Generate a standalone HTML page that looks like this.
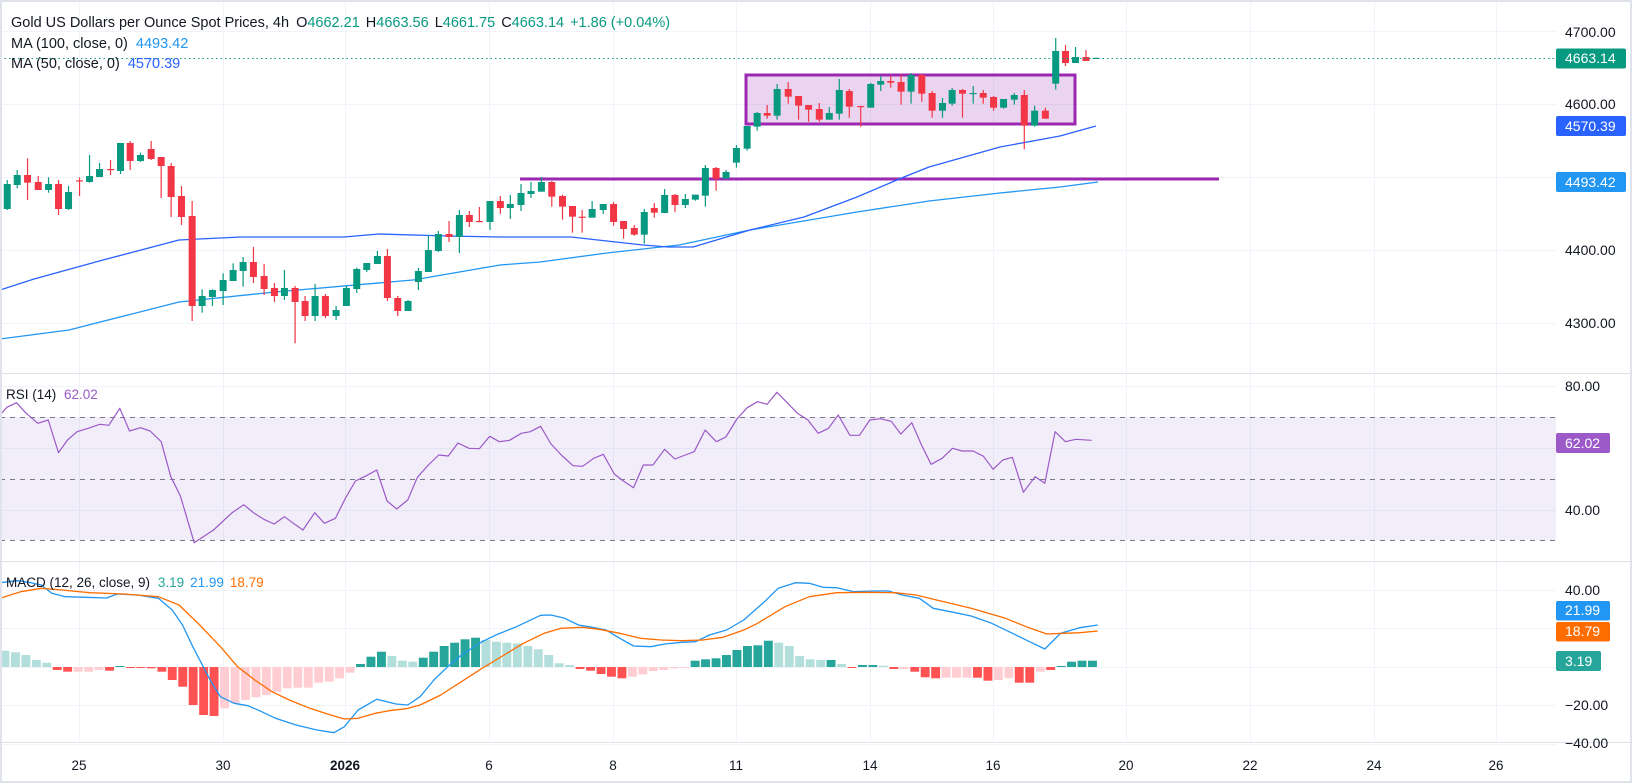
<!DOCTYPE html>
<html><head><meta charset="utf-8">
<style>
html,body{margin:0;padding:0;background:#fff;}
svg{display:block;font-family:"Liberation Sans",Arial,sans-serif;}
</style></head>
<body>
<svg id="c" width="1632" height="783" viewBox="0 0 1632 783" xmlns="http://www.w3.org/2000/svg">
<rect x="0" y="0" width="1632" height="783" fill="#fff"/>
<g id="grid"></g>
<rect x="0" y="417" width="1556" height="123" fill="#7e57c2" fill-opacity="0.1"/>
<line x1="0" y1="417.5" x2="1556" y2="417.5" stroke="#787b86" stroke-dasharray="5,5"/>
<line x1="0" y1="479.5" x2="1556" y2="479.5" stroke="#787b86" stroke-dasharray="5,5"/>
<line x1="0" y1="540.5" x2="1556" y2="540.5" stroke="#787b86" stroke-dasharray="5,5"/>
<rect x="746" y="75" width="329" height="49" fill="#9c27b0" fill-opacity="0.2" stroke="#9c27b0" stroke-width="3"/>
<line x1="520" y1="179" x2="1219" y2="179" stroke="#9c27b0" stroke-width="3"/>
<g id="ma"></g>
<g id="candles"></g>
<line x1="0" y1="58.5" x2="1556" y2="58.5" stroke="#089981" stroke-dasharray="1.5,3"/>
<g id="ind"></g>
<line x1="0" y1="373.5" x2="1632" y2="373.5" stroke="#e0e3eb"/>
<line x1="0" y1="561.5" x2="1632" y2="561.5" stroke="#e0e3eb"/>
<line x1="0" y1="742.5" x2="1632" y2="742.5" stroke="#e0e3eb"/>
<rect x="1" y="1" width="1630" height="781" fill="none" stroke="#e0e3eb" stroke-width="2"/>
<g font-size="14.5" fill="#131722">
<text x="11" y="27">Gold US Dollars per Ounce Spot Prices, 4h <tspan dx="3">O</tspan><tspan fill="#089981">4662.21</tspan><tspan dx="6">H</tspan><tspan fill="#089981">4663.56</tspan><tspan dx="6">L</tspan><tspan fill="#089981">4661.75</tspan><tspan dx="6">C</tspan><tspan fill="#089981">4663.14</tspan><tspan dx="6" fill="#089981">+1.86 (+0.04%)</tspan></text>
<text x="11" y="48">MA (100, close, 0) <tspan dx="4" fill="#2196f3">4493.42</tspan></text>
<text x="11" y="68">MA (50, close, 0) <tspan dx="4" fill="#2962ff">4570.39</tspan></text>
</g>
<g font-size="13.5" fill="#131722">
<text x="6" y="399">RSI (14) <tspan dx="4" fill="#9c59c8">62.02</tspan></text>
<text x="6" y="587">MACD (12, 26, close, 9) <tspan dx="4" fill="#26a69a">3.19</tspan><tspan dx="6" fill="#2196f3">21.99</tspan><tspan dx="6" fill="#ff6d00">18.79</tspan></text>
</g>
<g font-size="14" fill="#131722">
<text x="1565" y="37">4700.00</text>
<text x="1565" y="109">4600.00</text>
<text x="1565" y="255">4400.00</text>
<text x="1565" y="328">4300.00</text>
<text x="1565" y="391">80.00</text>
<text x="1565" y="515">40.00</text>
<text x="1565" y="595">40.00</text>
<text x="1565" y="710">−20.00</text>
<text x="1565" y="748">−40.00</text>
</g>
<g font-size="14" fill="#fff">
<rect x="1556" y="48.5" width="70" height="20" rx="2" fill="#089981"/><text x="1565" y="63">4663.14</text>
<rect x="1556" y="116" width="70" height="20" rx="2" fill="#2962ff"/><text x="1565" y="131">4570.39</text>
<rect x="1556" y="172" width="70" height="20" rx="2" fill="#2196f3"/><text x="1565" y="187">4493.42</text>
<rect x="1556" y="433" width="54" height="20" rx="2" fill="#9c59c8"/><text x="1565" y="448">62.02</text>
<rect x="1556" y="601" width="54" height="19.5" rx="2" fill="#2196f3"/><text x="1565" y="615">21.99</text>
<rect x="1556" y="622" width="54" height="19.5" rx="2" fill="#ff6d00"/><text x="1565" y="636">18.79</text>
<rect x="1556" y="651" width="45" height="20" rx="2" fill="#26a69a"/><text x="1565" y="666">3.19</text>
</g>
<g font-size="13.5" fill="#131722" text-anchor="middle">
<text x="79" y="770">25</text><text x="223" y="770">30</text><text x="345" y="770" font-weight="bold">2026</text>
<text x="489" y="770">6</text><text x="613" y="770">8</text><text x="736" y="770">11</text>
<text x="870" y="770">14</text><text x="993" y="770">16</text><text x="1126" y="770">20</text>
<text x="1250" y="770">22</text><text x="1374" y="770">24</text><text x="1496" y="770">26</text>
</g>
</svg>
<script>
var NS="http://www.w3.org/2000/svg";
function el(p,t,a){var e=document.createElementNS(NS,t);for(var k in a)e.setAttribute(k,a[k]);p.appendChild(e);return e;}
var grid=document.getElementById('grid');
[79,223,345,489,613,736,870,993,1126,1250,1374,1496].forEach(function(x){el(grid,'line',{x1:x+.5,y1:0,x2:x+.5,y2:742,stroke:'#f0f3fa'});});
[31.5,104.5,177.5,250.5,323.5,386.5,448.5,510.5,590.5,628.5,667.5,705.5,744.5].forEach(function(y){el(grid,'line',{x1:0,y1:y,x2:1556,y2:y,stroke:'#f0f3fa'});});
var cg=document.getElementById('candles');
function candle(x,o,c,h,l){var up=c<o;var col=up?'#089981':'#f23645';
 el(cg,'line',{x1:x,y1:h,x2:x,y2:l,stroke:col,'stroke-width':1.2});
 var t=Math.min(o,c),b=Math.max(o,c);if(b-t<1.2){b=t+1.2;}
 el(cg,'rect',{x:x-3.5,y:t,width:7,height:b-t,fill:col});}
var z1=[[21,327,252,240,330],[50,255,225,210,265],[80,225,248,175,300],[111,246,270,228,270],[141,270,252,232,278],[170,252,327,240,345],[199,327,276,258,330],[231,241,242,232,288],[260,246,228,165,248],[289,231,207,189,231],[321,207,209,180,225],[350,213,129,129,222],[378,129,183,123,210],[408,183,165,158,186],[439,147,177,123,180],[468,171,198,171,294],[497,198,291,189,351],[527,288,351,258,375],[558,348,618,303,663],[587,618,588,568,638],[617,591,570,568,618],[648,573,540,520,615],[677,543,510,490,543],[706,513,486,471,560],[736,486,531,441,549],[767,528,567,492,585],[797,564,588,549,606],[826,588,564,510,600],[857,564,606,558,730],[886,603,648,588,663],[915,648,588,552,663],[945,588,648,582,654],[976,648,630,618,660],[1006,618,564,558,618],[1036,567,507,503,579],[1065,510,489,489,516],[1096,492,468,453,492],[1125,468,594,447,603],[1155,594,633,588,648],[1185,633,603,600,633],[1215,546,513,504,570],[1244,516,450,405,516],[1273,453,402,393,456],[1304,402,411,363,426],[1334,411,345,330,459],[1363,345,366,333,381],[1392,363,364,321,366],[1423,366,303,303,390],[1453,303,324,288,342],[1482,324,312,285,357],[1513,315,279,252,333],[1542,282,273,246,294]];
z1.forEach(function(d){candle(d[0]/2.904,100+d[1]/3,100+d[2]/3,100+d[3]/3,100+d[4]/3);});
var z2=[[116,485,456,441,485],[145,456,500,453,530],[175,498,530,494,569],[203,528,560,528,608],[230,560,563,540,608],[258,563,537,513,563],[289,540,522,522,552],[318,522,576,516,587],[346,573,597,573,626],[376,594,614,585,617],[404,614,546,537,641],[432,534,548,519,563],[461,549,495,477,549],[490,495,525,492,546],[519,525,507,492,534],[547,509,494,494,512],[575,497,414,405,530],[605,414,446,411,482],[633,446,426,420,446],[662,398,354,345,413],[692,356,288,288,362],[720,290,249,246,302],[748,249,257,225,266],[776,257,177,162,269],[807,177,200,156,221],[836,198,227,198,269],[864,225,239,225,275],[894,237,269,219,275],[922,269,249,231,269],[950,251,180,147,269],[978,183,230,177,263],[1010,228,231,228,290],[1038,233,162,159,233],[1066,164,153,138,183],[1094,153,158,138,173],[1123,156,185,134,224],[1151,185,135,129,221],[1181,135,191,132,215],[1210,189,242,183,263],[1239,242,219,204,263],[1266,221,180,174,227],[1295,180,191,177,263],[1325,190,189,168,221],[1353,189,203,180,221],[1382,201,233,198,242],[1410,233,207,207,236],[1440,209,195,189,224],[1468,195,287,180,358],[1497,287,242,227,290],[1527,242,266,233,266],[1556,161,63,24,179]];
z2.forEach(function(d){candle(500+d[0]/2.8,30+d[1]/3,30+d[2]/3,30+d[3]/3,30+d[4]/3);});
candle(1065.5,51,63,45,66);candle(1075.5,63,57,47,63);candle(1086,57,61,50,61);candle(1096,58.5,57.8,57.8,58.5);
var mg=document.getElementById('ma');
function pl(g,pts,col,w){el(g,'polyline',{points:pts.map(function(p){return p[0].toFixed(1)+','+p[1].toFixed(1);}).join(' '),fill:'none',stroke:col,'stroke-width':w||1.3,'stroke-linejoin':'round'});}
pl(mg,[[0,339],[69,330],[179,302],[275,292],[413,280],[500,265],[540,262],[607,253],[679,245],[750,230],[857,212],[929,201],[1000,193],[1060,187],[1098,182]],'#2196f3');
pl(mg,[[0,290],[34,279],[103,260],[179,240],[241,237],[344,237],[379,234],[448,236],[500,237],[571,237],[643,245],[668,247],[693,247],[750,230],[804,217],[857,197],[904,177],[929,167],[1000,147],[1060,136],[1096,126]],'#2962ff');
var ig=document.getElementById('ind');
var rsi=[[0,165],[10,142],[24,128],[38,160],[55,190],[70,180],[85,278],[98,240],[112,215],[128,205],[145,193],[158,196],[174,145],[188,213],[204,203],[218,213],[234,245],[248,350],[262,408],[282,548],[310,510],[337,458],[354,434],[368,458],[383,478],[398,492],[413,470],[428,493],[440,510],[457,458],[471,490],[487,475],[502,413],[516,363],[532,347],[547,330],[562,423],[576,447],[592,420],[606,352],[622,315],[637,285],[651,288],[665,249],[681,265],[696,266],[711,229],[725,245],[740,241],[757,220],[770,215],[785,199],[800,252],[815,285],[832,317],[846,319],[862,295],[876,283],[892,342],[905,363],[920,383],[934,315],[948,315],[965,268],[980,297],[995,285],[1008,275],[1024,210],[1040,245],[1054,231],[1070,177],[1085,143],[1100,125],[1114,133],[1128,97],[1143,128],[1158,160],[1173,180],[1188,220],[1203,205],[1217,165],[1234,226],[1248,226],[1263,180],[1278,176],[1294,184],[1308,222],[1324,188],[1338,255],[1352,313],[1368,295],[1383,265],[1397,273],[1413,273],[1428,289],[1442,328],[1456,300],[1470,292],[1486,397],[1503,350],[1517,370],[1532,215],[1547,245],[1562,238],[1585,241]];
pl(ig,rsi.map(function(p){return [p[0]/1.452,360+p[1]/3];}),'#9c59c8',1.2);
var hist=[[332,'g'],[337,'g'],[345,'g'],[360,'g'],[368,'g'],[390,'R'],[395,'R'],[395,'r'],[395,'r'],[390,'r'],[392,'R'],[378,'G'],[383,'R'],[383,'R'],[385,'R'],[395,'R'],[420,'R'],[440,'R'],[495,'R'],[525,'R'],[528,'R'],[505,'r'],[490,'r'],[480,'r'],[472,'r'],[465,'r'],[455,'r'],[445,'r'],[443,'r'],[443,'r'],[428,'r'],[425,'r'],[415,'r'],[398,'r'],[372,'G'],[350,'G'],[335,'G'],[348,'g'],[362,'g'],[365,'g'],[353,'G'],[335,'G'],[318,'G'],[308,'G'],[298,'G'],[293,'G'],[300,'g'],[305,'g'],[308,'g'],[310,'g'],[318,'g'],[328,'g'],[345,'g'],[370,'g'],[375,'g'],[387,'R'],[392,'R'],[402,'R'],[410,'R'],[415,'R'],[410,'r'],[403,'r'],[393,'r'],[390,'r'],[385,'r'],[382,'r'],[362,'G'],[358,'G'],[355,'G'],[345,'G'],[330,'G'],[318,'G'],[316,'G'],[302,'G'],[308,'g'],[318,'g'],[348,'g'],[358,'g'],[360,'g'],[360,'G'],[372,'g'],[382,'R'],[375,'G'],[375,'G'],[377,'g'],[387,'R'],[387,'r'],[395,'R'],[412,'R'],[415,'R'],[413,'r'],[413,'r'],[413,'r'],[413,'R'],[422,'R'],[420,'r'],[415,'r'],[428,'R'],[428,'R'],[395,'r'],[390,'R'],[378,'G'],[365,'G'],[362,'G'],[362,'G']];
var cols={G:'#26a69a',g:'#b2dfdb',R:'#ff5252',r:'#ffcdd2'};
var step=1098/hist.length;
hist.forEach(function(h,i){var y=540+h[0]/3,z=667;var t=Math.min(y,z),b=Math.max(y,z);if(b-t<1)b=t+1;
 el(ig,'rect',{x:(i*step+0.5).toFixed(1),y:t.toFixed(1),width:(step-1.6).toFixed(1),height:(b-t).toFixed(1),fill:cols[h[1]]});});
var macd=[[0,128],[25,122],[45,128],[60,135],[75,160],[95,170],[125,172],[155,174],[170,162],[200,165],[230,175],[250,210],[265,255],[280,320],[295,380],[305,420],[320,470],[340,490],[360,497],[380,515],[400,535],[430,555],[460,570],[485,578],[500,560],[520,510],[547,478],[575,492],[592,495],[610,470],[630,420],[650,380],[670,345],[700,305],[720,285],[750,260],[785,226],[800,225],[820,235],[840,255],[860,262],[880,270],[900,295],[920,318],[945,320],[965,312],[990,307],[1010,305],[1030,285],[1055,270],[1080,240],[1110,185],[1130,145],[1155,128],[1175,130],[1195,142],[1215,143],[1240,155],[1270,153],[1290,153],[1310,165],[1335,175],[1355,205],[1380,215],[1410,228],[1440,250],[1470,280],[1495,305],[1517,327],[1540,280],[1568,263],[1594,255]];
var sig=[[0,175],[30,155],[60,145],[90,150],[130,158],[180,162],[230,170],[260,195],[290,255],[320,320],[345,380],[370,420],[395,455],[420,480],[450,505],[480,525],[500,537],[520,535],[545,520],[565,512],[590,506],[610,495],[640,465],[670,425],[700,385],[720,360],[760,310],[790,280],[815,265],[845,262],[870,268],[900,280],[930,295],[960,300],[990,302],[1020,300],[1050,292],[1080,270],[1100,250],[1140,200],[1175,170],[1215,158],[1260,157],[1300,158],[1330,165],[1360,180],[1410,205],[1460,235],[1490,260],[1520,282],[1545,280],[1568,278],[1594,273]];
pl(ig,macd.map(function(p){return [p[0]/1.452,540+p[1]/3];}),'#2196f3',1.3);
pl(ig,sig.map(function(p){return [p[0]/1.452,540+p[1]/3];}),'#ff6d00',1.3);
</script>
</body></html>
